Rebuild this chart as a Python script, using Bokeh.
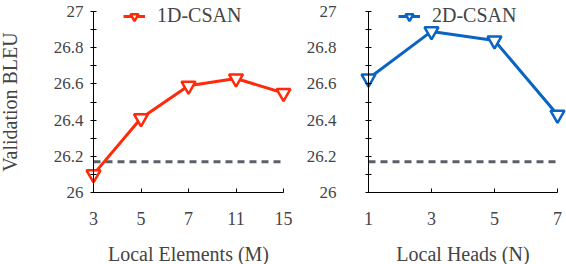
from bokeh.plotting import figure
from bokeh.layouts import row
from bokeh.models import FixedTicker, Range1d, Legend, LegendItem
from bokeh.embed import file_html
from bokeh.resources import INLINE

# ---- data ----
m_labels = ["3", "5", "7", "11", "15"]
bleu_1d = [26.10, 26.41, 26.59, 26.63, 26.55]
n_labels = ["1", "3", "5", "7"]
bleu_2d = [26.63, 26.89, 26.84, 26.43]
baseline = 26.17
y_ticks = [26.0, 26.2, 26.4, 26.6, 26.8, 27.0]
y_minor = [26.1, 26.3, 26.5, 26.7, 26.9]

RED = "#ff2a0a"
BLUE = "#0a64c4"
GRAY = "#5a6069"
FONT = "Liberation Serif"

H = 264
Y_TOP = 27 + 11 / 181.0
Y_BOT = 26 - 72 / 181.0


def make_panel(labels, values, color, name, width, x0, x1, ylab, y_standoff, leg_name, leg_loc):
    n = len(labels)
    xs = list(range(n))
    p = figure(width=width, height=H, output_backend="svg", toolbar_location=None,
               x_range=Range1d(x0, x1), y_range=Range1d(Y_BOT, Y_TOP),
               min_border_left=0, min_border_right=0,
               min_border_top=0, min_border_bottom=0)
    p.outline_line_color = None
    p.grid.visible = False
    p.background_fill_color = "white"
    p.border_fill_color = "white"

    p.line([0, n - 1], [baseline, baseline], line_color=GRAY, line_width=3,
           line_dash="7 5")
    ln = p.line(xs, values, line_color=color, line_width=3)
    mk = p.scatter(xs, values, marker="inverted_triangle", size=14, fill_color="white",
                   line_color=color, line_width=2.5)

    xa = p.xaxis[0]
    xa.fixed_location = 26
    xa.ticker = FixedTicker(ticks=xs)
    xa.major_label_overrides = {i: lab for i, lab in enumerate(labels)}
    xa.bounds = (0, n - 1)
    xa.major_tick_in = 4
    xa.major_tick_out = 0
    xa.minor_tick_line_color = None
    xa.major_label_text_font = FONT
    xa.major_label_text_font_size = "18px"
    xa.major_label_standoff = 19
    xa.axis_label = name
    xa.axis_label_text_font = FONT
    xa.axis_label_text_font_size = "20px"
    xa.axis_label_text_font_style = "normal"
    xa.axis_label_standoff = 15
    xa.axis_line_color = "black"

    ya = p.yaxis[0]
    ya.fixed_location = 0
    ya.bounds = (26, 27)
    ya.ticker = FixedTicker(ticks=y_ticks, minor_ticks=y_minor)
    ya.major_label_overrides = {26: "26", 27: "27"}
    ya.major_tick_in = 3
    ya.major_tick_out = 3
    ya.minor_tick_in = 3
    ya.minor_tick_out = 3
    ya.major_label_text_font = FONT
    ya.major_label_text_font_size = "17px"
    ya.major_label_standoff = y_standoff
    if ylab:
        ya.axis_label = ylab
        ya.axis_label_text_font = FONT
        ya.axis_label_text_font_size = "20px"
        ya.axis_label_text_font_style = "normal"
        ya.axis_label_standoff = 30

    leg = Legend(items=[LegendItem(label=leg_name, renderers=[ln, mk])], location=leg_loc,
                 border_line_color=None, background_fill_alpha=0,
                 label_text_font=FONT, label_text_font_size="20px",
                 glyph_width=22, glyph_height=20, label_height=20,
                 label_standoff=12, padding=0, margin=0)
    p.add_layout(leg, "center")
    return p


W1 = 300
W2 = 566 - W1
# left panel: category 0 at x=93 px, 47.5 px per step
p1 = make_panel(m_labels, bleu_1d, RED, "Local Elements (M)", W1,
                -93 / 47.5, (W1 - 93) / 47.5, "Validation BLEU", 7, "1D-CSAN", (123, 237))
# right panel: category 0 at x=368 px, 63 px per step
p2 = make_panel(n_labels, bleu_2d, BLUE, "Local Heads (N)", W2,
                -(368 - W1) / 63.0, (566 - 368) / 63.0, None, 29, "2D-CSAN", (398 - W1, 237))

layout = row(p1, p2)
open("out.html", "w").write(file_html(layout, INLINE))
